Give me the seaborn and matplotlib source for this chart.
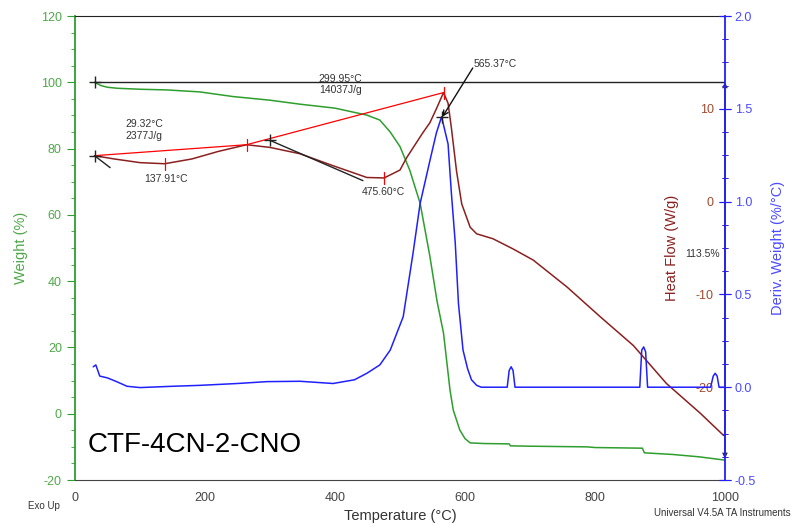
import numpy as np
import pandas as pd
import matplotlib
matplotlib.use('Agg')
import matplotlib.pyplot as plt
from matplotlib.ticker import MultipleLocator, FuncFormatter
import seaborn as sns

w_temp = [30, 40, 50, 65, 100, 141, 192, 243, 300, 346, 400, 449, 469, 485, 500, 515,
          531, 546, 557, 567, 577, 582, 592, 600, 608, 630, 668, 670, 700, 788, 800,
          873, 876, 920, 960, 992, 1000]
weight = [100, 99.0, 98.5, 98.2, 97.9, 97.7, 97.1, 95.7, 94.6, 93.4, 92.2, 90.1, 88.6,
          85.0, 80.6, 73.5, 63.5, 47.5, 34.0, 24.3, 7.1, 1.1, -4.9, -7.5, -8.8, -9.0,
          -9.1, -9.7, -9.8, -10.0, -10.2, -10.4, -11.8, -12.3, -13.0, -13.8, -14.0]

d_temp = [28, 32, 38, 50, 64, 80, 100, 150, 192, 250, 295, 346, 397, 430, 449, 469, 485,
          505, 520, 531, 546, 556, 564, 574, 579, 585, 590, 597, 604, 610, 618, 625, 665,
          668, 671, 674, 677, 800, 869, 872, 875, 878, 881, 978, 982, 985, 988, 991, 998]
deriv = [0.11, 0.12, 0.06, 0.05, 0.03, 0.005, -0.002, 0.005, 0.01, 0.02, 0.03, 0.032,
         0.02, 0.04, 0.075, 0.12, 0.2, 0.38, 0.72, 0.99, 1.22, 1.37, 1.457, 1.31, 1.05,
         0.78, 0.45, 0.2, 0.1, 0.04, 0.01, 0.0, 0.0, 0.09, 0.11, 0.09, 0.0, 0.0, 0.0, 0.2,
         0.217, 0.19, 0.0, 0.0, 0.06, 0.075, 0.06, 0.0, 0.0]

h_temp = [30, 60, 100, 137.9, 180, 220, 264, 300, 346, 397, 449, 475.6, 500, 510, 522,
          535, 546, 556, 567, 574, 579, 587, 595, 608, 618, 643, 674, 705, 757, 808, 859,
          910, 962, 998]
heat = [4.95, 4.6, 4.2, 4.08, 4.6, 5.4, 6.13, 5.84, 5.16, 3.87, 2.6, 2.55, 3.4, 4.7, 6.0,
        7.4, 8.5, 10.0, 11.75, 10.6, 8.0, 3.3, -0.25, -2.76, -3.47, -4.0, -5.1, -6.3,
        -9.2, -12.4, -15.5, -19.6, -22.8, -25.2]

# analysis marks
base_temps = [30, 264, 567]          # red integration baselines
peak_marks = [137.91, 264, 475.60, 567]
tangents = [(30, 4.95, 54, 3.66), (300, 6.6, 443, 2.26)]
dtg_peak = (565.37, 1.457)
loss_ends = (100, -13.5)

green = '#2e9e2e'
green_txt = '#4fa84a'
brown = '#8b2020'
brown_txt = '#a04a30'
blue = '#2020ff'
blue_txt = '#4a4aff'

sns.set_style('white')
plt.rcParams['font.family'] = ['Liberation Sans', 'DejaVu Sans']
plt.rcParams['axes.unicode_minus'] = False

fig = plt.figure(figsize=(7.94, 5.25), dpi=100)
ax = fig.add_axes([0.0945, 0.0857, 0.8185, 0.8838])
ax2 = ax.twinx()
ax3 = ax.twinx()

wdf = pd.DataFrame({'T': w_temp, 'W': weight})
ddf = pd.DataFrame({'T': d_temp, 'D': deriv})
hdf = pd.DataFrame({'T': h_temp, 'H': heat})

sns.lineplot(data=wdf, x='T', y='W', ax=ax, color=green, lw=1.1, estimator=None)
sns.lineplot(data=hdf, x='T', y='H', ax=ax2, color=brown, lw=1.1, estimator=None)
sns.lineplot(data=ddf, x='T', y='D', ax=ax3, color=blue, lw=1.1, estimator=None)

# weight axis
ax.set_xlim(0, 1000)
ax.set_ylim(-20, 120)
ax.xaxis.set_major_locator(MultipleLocator(200))
ax.xaxis.set_minor_locator(MultipleLocator(50))
ax.yaxis.set_major_locator(MultipleLocator(20))
ax.yaxis.set_minor_locator(MultipleLocator(5))
ax.tick_params(axis='x', which='both', direction='out', colors='#444444', labelsize=9)
ax.tick_params(axis='x', which='major', length=5)
ax.tick_params(axis='x', which='minor', length=3)
ax.tick_params(axis='y', which='both', direction='out', colors=green, labelcolor=green_txt,
               labelsize=9)
ax.tick_params(axis='y', which='major', length=6)
ax.tick_params(axis='y', which='minor', length=3)
ax.set_ylabel('Weight (%)', fontsize=10.5, color=green_txt, labelpad=9)
ax.spines['left'].set_color(green)
ax.spines['left'].set_linewidth(1.3)
ax.spines['bottom'].set_color('#444444')
ax.spines['top'].set_color('#222222')
ax.spines['right'].set_visible(False)

# heat flow axis: ticks on the right spine, labels inside
ax2.set_ylim(-30, 20)
ax2.yaxis.tick_left()
ax2.yaxis.set_label_position('left')
ax2.spines['left'].set_position(('axes', 1.0))
ax2.spines['left'].set_visible(False)
for s in ['right', 'top', 'bottom']:
    ax2.spines[s].set_visible(False)
ax2.yaxis.set_major_locator(MultipleLocator(10))
ax2.yaxis.set_minor_locator(MultipleLocator(2.5))
ax2.yaxis.set_major_formatter(FuncFormatter(
    lambda v, p: '' if v > 15 or v < -25 else f'{v:.0f}'))
ax2.tick_params(axis='y', which='both', direction='inout', colors=brown, labelcolor=brown_txt,
                labelsize=9, pad=4)
ax2.tick_params(axis='y', which='major', length=8)
ax2.tick_params(axis='y', which='minor', length=5)
ax2.set_ylabel('Heat Flow (W/g)', fontsize=10.5, color=brown)
ax2.yaxis.set_label_coords(0.93, 0.5)

# derivative weight axis
ax3.set_ylim(-0.5, 2.0)
ax3.yaxis.set_major_locator(MultipleLocator(0.5))
ax3.yaxis.set_minor_locator(MultipleLocator(0.125))
ax3.tick_params(axis='y', which='both', direction='inout', colors=blue, labelcolor=blue_txt,
                labelsize=9, pad=3)
ax3.tick_params(axis='y', which='major', length=8)
ax3.tick_params(axis='y', which='minor', length=5)
ax3.spines['right'].set_color(blue)
ax3.spines['right'].set_linewidth(1.3)
for s in ['left', 'top', 'bottom']:
    ax3.spines[s].set_visible(False)
ax3.set_ylabel('Deriv. Weight (%/°C)', fontsize=10.5, color=blue_txt, labelpad=11)
ax3.yaxis.set_major_formatter(FuncFormatter(lambda v, p: f'{v:.1f}'))
for a in (ax2, ax3):
    a.set_xlabel('')
ax.set_xlabel('Temperature (°C)', fontsize=10.5, color='#333333', labelpad=4)

# ---- analysis annotations ----
ax.plot([w_temp[0], 1000], [weight[0], weight[0]], color='#222222', lw=1.0)
ax.plot([w_temp[0]], [weight[0]], marker='+', color='#222222', ms=8, mew=1)
ax.annotate('', xy=(1000, loss_ends[0]), xytext=(1000, loss_ends[1]),
            arrowprops=dict(arrowstyle='<->', color='#222222', lw=1.0,
                            mutation_scale=7, shrinkA=0, shrinkB=0))

base_h = np.interp(base_temps, h_temp, heat)
ax2.plot(base_temps, base_h, color='red', lw=0.9)
for t in peak_marks:
    h = np.interp(t, h_temp, heat)
    ax2.plot([t, t], [h - 0.65, h + 0.65], color='red', lw=0.9)
for x0, y0, x1, y1 in tangents:
    ax2.plot([x0, x1], [y0, y1], color='#222222', lw=1.0)
    ax2.plot([x0], [y0], marker='+', color='#222222', ms=9, mew=1)

ax3.plot([dtg_peak[0]], [dtg_peak[1]], marker='+', color='#222222', ms=9, mew=1)
ax3.annotate('', xy=dtg_peak, xytext=(612, 1.72),
             arrowprops=dict(arrowstyle='->', color='#111111', lw=1.0,
                             mutation_scale=9, shrinkA=0, shrinkB=0))

txt = dict(fontsize=7.5, color='#333333')
ax.text(77, 85.6, '29.32°C\n2377J/g', ha='left', va='center', linespacing=1.2, **txt)
ax.text(375, 99.3, '299.95°C\n14037J/g', ha='left', va='center', linespacing=1.2, **txt)
ax.text(140, 70.8, '137.91°C', ha='center', va='center', **txt)
ax.text(475, 66.9, '475.60°C', ha='center', va='center', **txt)
ax.text(614, 105.5, '565.37°C', ha='left', va='center', **txt)
ax.text(992, 48.2, '113.5%', ha='right', va='center', **txt)
ax.text(20, -9.4, 'CTF-4CN-2-CNO', ha='left', va='center', fontsize=20, color='black')

fig.text(0.035, 0.036, 'Exo Up', fontsize=7, color='#333333', ha='left', va='center')
fig.text(0.996, 0.023, 'Universal V4.5A TA Instruments', fontsize=7, color='#333333',
         ha='right', va='center')

fig.savefig('out.png', dpi=100)
